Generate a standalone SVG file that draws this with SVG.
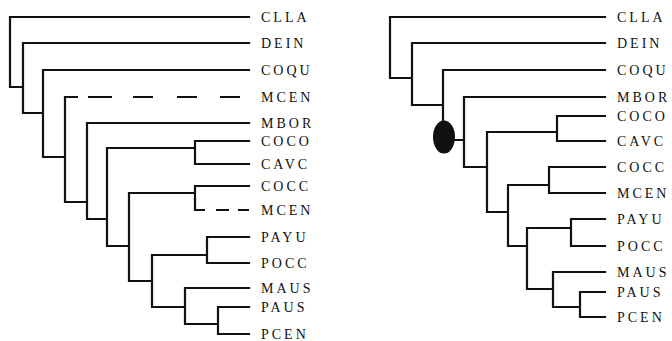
<svg xmlns="http://www.w3.org/2000/svg" width="672" height="341" viewBox="0 0 672 341">
<style>
.e{fill:none;stroke:#111;stroke-width:2.2;stroke-linecap:square;stroke-linejoin:miter}
.d{fill:none;stroke:#111;stroke-width:2.2}
text{font-family:"Liberation Serif","Times New Roman",serif;font-size:14px;letter-spacing:3px;fill:#111}
.cap{font-size:17px;font-weight:bold;letter-spacing:0}
</style>
<rect width="672" height="341" fill="#fff"/>
<g id="connectors">
<!-- left tree -->
<path class="e" d="M249 17H10V87H23 M249 43H23V113H43 M249 70H43V157H65 M65 97V202H87 M249 123H87V219H107 M107 148V246H129 M107 148H195 M249 141H195V164H249 M129 193V281H152 M129 193H195 M249 186H195V199 M152 255V307H185 M152 255H207 M249 237H207V263H249 M249 288H185V324H218 M249 307H218V334H249"/>
<path class="d" d="M65 97H78 M88 97H112 M133 97H153 M177 97H197 M220 97H240 M195 199V210H205 M216 210H229 M238 210H249"/>
<!-- right tree -->
<path class="e" d="M605 17H390V78H412 M605 43H412V105H443 M605 70H443V137 M444 140H464 M605 97H464V167H487 M487 132V212H508 M487 132H557 M605 116H557V141H605 M508 185V246H527 M508 185H549 M605 167H549V193H605 M527 228V289H553 M527 228H571 M605 219H571V246H605 M605 272H553V307H580 M605 292H580V317H605"/>
</g>
<g id="ancestral-state">
<ellipse cx="444" cy="137" rx="11" ry="16.5" fill="#111"/>
</g>
<g id="left-labels">
<text x="261" y="22">CLLA</text>
<text x="261" y="48">DEIN</text>
<text x="261" y="75">COQU</text>
<text x="261" y="102">MCEN</text>
<text x="261" y="128">MBOR</text>
<text x="261" y="146">COCO</text>
<text x="261" y="169">CAVC</text>
<text x="261" y="191">COCC</text>
<text x="261" y="215">MCEN</text>
<text x="261" y="242">PAYU</text>
<text x="261" y="268">POCC</text>
<text x="261" y="293">MAUS</text>
<text x="261" y="312">PAUS</text>
<text x="261" y="339">PCEN</text>
</g>
<g id="right-labels">
<text x="617" y="22">CLLA</text>
<text x="617" y="48">DEIN</text>
<text x="617" y="75">COQU</text>
<text x="617" y="102">MBOR</text>
<text x="617" y="121">COCO</text>
<text x="617" y="146">CAVC</text>
<text x="617" y="172">COCC</text>
<text x="617" y="198">MCEN</text>
<text x="617" y="224">PAYU</text>
<text x="617" y="251">POCC</text>
<text x="617" y="277">MAUS</text>
<text x="617" y="297">PAUS</text>
<text x="617" y="322">PCEN</text>
</g>
<g id="caption">
<text class="cap" x="36" y="352">1</text>
<text class="cap" x="58" y="352">4</text>
</g>
</svg>
